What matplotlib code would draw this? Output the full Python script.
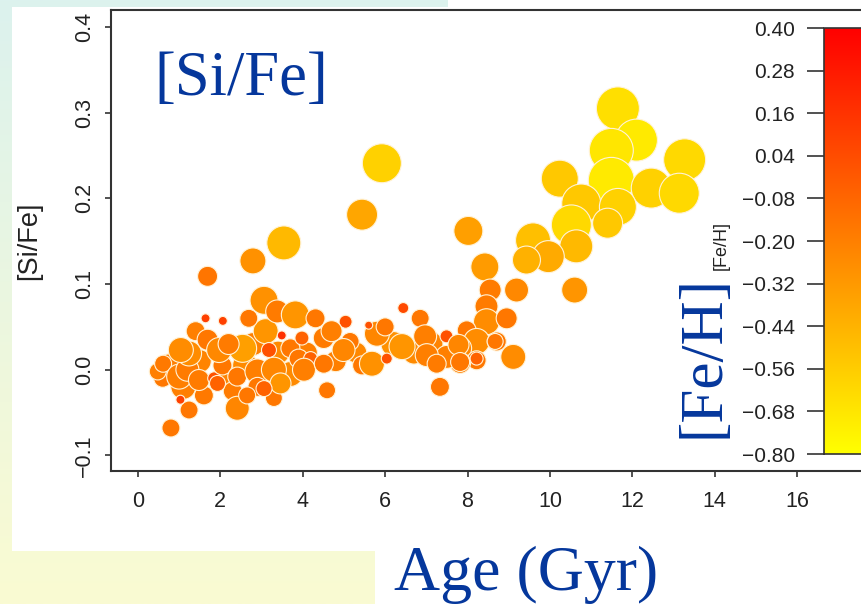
import numpy as np
import matplotlib
matplotlib.use('Agg')
import matplotlib.pyplot as plt
from matplotlib.colors import LinearSegmentedColormap, to_rgb
from matplotlib.patches import Rectangle

plt.rcParams['font.family'] = ['Liberation Sans', 'DejaVu Sans']

# stellar age (Gyr), [Si/Fe], [Fe/H] and relative bubble size
age = [5.92, 5.44, 3.54, 2.79, 1.69, 8.02, 8.42, 1.64, 2.06, 6.44,
       11.65, 12.10, 11.49, 13.27, 11.49, 12.46, 13.14, 10.24, 10.76, 11.65,
       10.52, 11.40, 9.59, 10.64, 9.96, 9.43, 10.60, 9.19, 8.55,
       8.46, 8.46, 8.95, 7.98, 8.22, 8.71, 7.82, 9.11, 8.22, 7.82, 7.33,
       0.75, 1.10, 1.50, 1.60, 2.20, 2.60, 2.80, 3.10, 3.40, 3.70,
       4.10, 4.80, 5.30, 6.20, 6.70, 7.10, 7.50, 2.30, 1.40,
       0.80, 2.41, 1.24, 1.03, 3.30, 4.59, 0.60, 0.48, 0.61, 1.00,
       1.20, 1.24, 1.48, 1.69, 1.85, 1.93, 2.05, 2.69, 2.54, 2.41,
       2.90, 2.90, 3.06, 3.38, 3.58, 3.82, 4.31, 3.18, 3.49, 3.70,
       3.98, 3.90, 4.19, 3.30, 3.46, 3.06, 4.03, 4.51, 4.51, 5.04,
       5.15, 4.99, 5.44, 5.68, 5.80, 6.00, 5.60, 6.04, 6.41, 6.85,
       6.97, 7.01, 7.25, 7.49, 7.78, 7.82, 8.22, 8.67, 1.04, 1.97,
       2.65, 4.70, 2.20]
si_fe = [0.241, 0.181, 0.148, 0.127, 0.109, 0.162, 0.120, 0.060, 0.057, 0.072,
         0.305, 0.268, 0.256, 0.245, 0.221, 0.212, 0.206, 0.223, 0.194, 0.190,
         0.169, 0.171, 0.151, 0.144, 0.132, 0.128, 0.093, 0.093, 0.093,
         0.074, 0.056, 0.060, 0.046, 0.033, 0.033, 0.025, 0.015, 0.011, 0.008, -0.020,
         0.005, -0.020, 0.010, -0.030, -0.005, 0.005, 0.030, 0.045, 0.020, -0.005,
         0.020, 0.010, 0.020, 0.030, 0.020, 0.030, 0.015, -0.025, 0.045,
         -0.068, -0.045, -0.047, -0.035, -0.033, -0.024, -0.010, -0.002, 0.007, -0.008,
         0.000, 0.019, -0.012, 0.035, -0.010, -0.016, 0.005, 0.060, 0.025, -0.008,
         -0.002, -0.020, 0.081, 0.068, 0.066, 0.064, 0.060, 0.023, 0.040, 0.025,
         0.037, 0.013, 0.013, 0.000, -0.016, -0.022, 0.000, 0.037, 0.007, 0.056,
         0.033, 0.023, 0.005, 0.007, 0.042, 0.050, 0.052, 0.013, 0.027, 0.060,
         0.039, 0.017, 0.007, 0.039, 0.029, 0.009, 0.013, 0.033, 0.023, 0.023,
         -0.030, 0.045, 0.030]
fe_h = [-0.58, -0.38, -0.47, -0.28, -0.15, -0.35, -0.33, 0.10, 0.10, 0.05,
        -0.65, -0.70, -0.68, -0.62, -0.70, -0.58, -0.62, -0.54, -0.54, -0.58,
        -0.62, -0.54, -0.50, -0.47, -0.40, -0.43, -0.30, -0.24, -0.18,
        -0.18, -0.26, -0.16, -0.16, -0.26, -0.16, -0.23, -0.26, -0.16, -0.18, -0.16,
        -0.20, -0.20, -0.22, -0.17, -0.22, -0.25, -0.20, -0.30, -0.25, -0.25,
        -0.20, -0.20, -0.24, -0.28, -0.25, -0.22, -0.20, -0.18, -0.20,
        -0.16, -0.23, -0.16, 0.10, -0.16, -0.16, -0.16, -0.20, -0.17, -0.20,
        -0.18, -0.26, -0.18, -0.16, 0.02, -0.06, -0.16, -0.16, -0.35, -0.16,
        -0.20, -0.16, -0.28, -0.18, 0.38, -0.30, -0.16, 0.02, 0.17, -0.16,
        -0.06, -0.16, -0.06, -0.23, -0.30, -0.06, -0.20, -0.18, -0.16, 0.02,
        -0.16, -0.23, -0.16, -0.28, -0.23, -0.16, 0.02, 0.02, -0.30, -0.16,
        -0.20, -0.20, -0.18, 0.02, -0.23, -0.16, -0.06, -0.16, -0.26, -0.24,
        -0.16, -0.20, -0.18]
bubble = [3.9, 3.1, 3.4, 2.6, 2.0, 2.9, 2.8, 0.9, 0.9, 1.1,
          4.3, 4.2, 4.4, 4.2, 4.6, 4.0, 4.0, 3.7, 3.9, 3.7,
          4.0, 3.0, 3.5, 3.3, 3.2, 2.8, 2.6, 2.4, 2.2,
          2.3, 2.6, 2.1, 1.9, 2.6, 1.9, 2.3, 2.5, 1.9, 2.1, 1.9,
          2.3, 2.5, 2.3, 1.9, 2.3, 2.5, 2.3, 2.5, 2.3, 2.5,
          2.1, 2.1, 2.1, 2.5, 2.3, 2.5, 2.3, 1.9, 1.9,
          1.8, 2.4, 1.8, 0.9, 1.7, 1.7, 1.8, 1.7, 1.7, 2.5,
          2.3, 2.5, 2.1, 2.1, 1.3, 1.6, 1.9, 1.8, 2.8, 1.9,
          2.5, 1.9, 2.8, 2.3, 0.8, 2.8, 1.9, 1.5, 0.9, 1.9,
          1.4, 1.9, 1.4, 2.5, 2.1, 1.6, 2.3, 2.1, 1.9, 1.3,
          1.8, 2.3, 1.9, 2.5, 2.5, 1.8, 0.8, 1.1, 2.6, 1.8,
          2.3, 2.3, 1.9, 1.3, 2.1, 1.9, 1.3, 1.6, 2.5, 2.5,
          1.7, 2.1, 2.1]

x_ticks = [0, 2, 4, 6, 8, 10, 12, 14, 16]
y_ticks = [-0.1, 0.0, 0.1, 0.2, 0.3, 0.4]
cb_ticks = np.linspace(-0.8, 0.4, 11)

W, H = 861, 604
blue = '#05379C'
ink = '#222222'


def fmt(v, nd):
    return f'{v:.{nd}f}'.replace('-', '\u2212')


fig = plt.figure(figsize=(W / 100, H / 100), dpi=100)

# slide background: gradient with white panels on top
bg = fig.add_axes([0, 0, 1, 1], zorder=-10)
top_c, bot_c = np.array(to_rgb('#DCF2EE')), np.array(to_rgb('#FAFBD2'))
t = np.linspace(0, 1, 256)[:, None, None]
bg.imshow((1 - t) * top_c + t * bot_c, extent=[0, W, H, 0], aspect='auto')
bg.add_patch(Rectangle((12, 7), W - 12, 544, color='white', lw=0))
bg.add_patch(Rectangle((375, 551), W - 375, H - 551, color='white', lw=0))
bg.add_patch(Rectangle((448, 0), W - 448, 7, color='white', lw=0))
bg.set_xlim(0, W)
bg.set_ylim(H, 0)
bg.axis('off')

cmap = LinearSegmentedColormap.from_list('fe', ['#FFFF00', '#FF0000'])

ax = fig.add_axes([111 / W, 0.2202, 759 / W, 0.7633])
ax.set_facecolor('white')
sc = ax.scatter(age, si_fe, s=(np.array(bubble) * 7.2) ** 2, c=fe_h, cmap=cmap,
                vmin=-0.8, vmax=0.4, edgecolors='#FFF3D8', linewidths=0.8, zorder=3)
ax.set_xlim(-0.655, 17.77)
ax.set_ylim(-0.1182, 0.4199)
ax.set_xticks(x_ticks)
ax.set_yticks(y_ticks)
ax.set_yticklabels([fmt(v, 1) for v in y_ticks], rotation=90, va='center')
ax.tick_params(axis='x', length=4.5, width=1.2, pad=10, labelsize=15.5,
               colors=ink, color='#333333')
ax.tick_params(axis='y', length=4.5, width=1.2, pad=7, labelsize=15.5,
               colors=ink, color='#333333')
for sp in ax.spines.values():
    sp.set_linewidth(1.5)
    sp.set_color('#333333')
ax.set_ylabel('[Si/Fe]', fontsize=19.5, color=ink)
ax.yaxis.set_label_coords(-0.091, 0.5)

# colour bar for [Fe/H]
cax = fig.add_axes([824 / W, 0.2483, 46 / W, 0.7053])
cb = fig.colorbar(sc, cax=cax, ticks=cb_ticks)
cax.yaxis.set_ticks_position('left')
cax.yaxis.set_label_position('left')
cax.set_yticklabels([fmt(v, 2) for v in cb_ticks])
cax.tick_params(length=12, width=1.2, pad=9, labelsize=15, colors=ink, color='#333333')
cb.outline.set_linewidth(1.2)
cb.outline.set_edgecolor('#333333')
cax.set_ylabel('[Fe/H]', fontsize=13, color=ink)
cax.yaxis.set_label_coords(-2.04, 0.49)

# large slide annotations
serif = ['Liberation Serif', 'DejaVu Serif']
fig.text(241 / W, (H - 95) / H, '[Si/Fe]', family=serif, fontsize=45,
         color=blue, ha='center', va='baseline')
fig.text(526 / W, (H - 590) / H, 'Age (Gyr)', family=serif, fontsize=46,
         color=blue, ha='center', va='baseline')
fig.text(703.5 / W, (H - 356) / H, '[Fe/H]', family=serif, fontsize=44,
         color=blue, ha='center', va='center', rotation=90)

fig.savefig('out.png', dpi=100)
